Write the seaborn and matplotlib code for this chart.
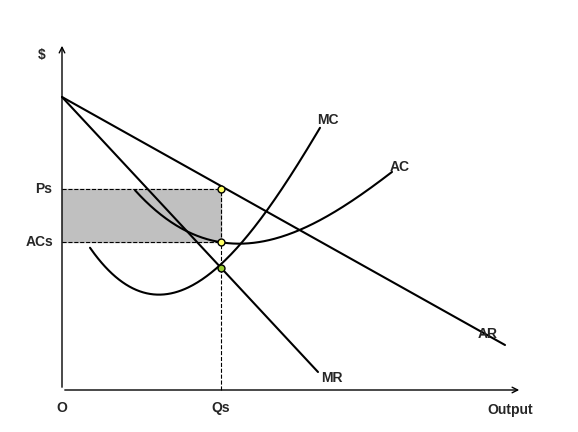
import numpy as np
import matplotlib
matplotlib.use("Agg")
import matplotlib.pyplot as plt
import seaborn as sns

# values (origin at O)
ar_x = [0, 443]
ar_y = [293, 45]
mr_x = [0, 256]
mr_y = [293, 18]
mc_x = [28, 48, 68, 93, 118, 138, 159, 183, 208, 233, 258]
mc_y = [142, 118, 103, 97, 100, 110, 122, 150, 185, 225, 260]
ac_x = [73, 93, 118, 138, 159, 183, 208, 238, 268, 298, 330]
ac_y = [200, 180, 162, 153, 148, 147, 150, 160, 175, 195, 218]
qs = 159
ps = 201
acs = 148
mc_at_qs = 122


# smooth a curve through the read points
def smooth(xs, ys, deg=3):
    coef = np.polyfit(xs, ys, deg)
    grid = np.linspace(xs[0], xs[-1], 200)
    return grid, np.polyval(coef, grid)


sns.set_style("white")
plt.rcParams['font.family'] = ['Liberation Sans', 'DejaVu Sans']

fig = plt.figure(figsize=(5.78, 4.32), dpi=100)
ax = fig.add_axes([0, 0, 1, 1])
ax.set_xlim(-62, 516)
ax.set_ylim(-42, 390)
ax.axis('off')

# axes with arrows
ax.annotate('', xy=(460, 0), xytext=(0, 0),
            arrowprops=dict(arrowstyle='->', lw=1, color='black'))
ax.annotate('', xy=(0, 347), xytext=(0, 0),
            arrowprops=dict(arrowstyle='->', lw=1, color='black'))

# profit box
ax.fill_between([0, qs], acs, ps, color='#c0c0c0', zorder=1)
ax.plot([0, qs], [ps, ps], ls='--', color='black', lw=0.8)
ax.plot([0, qs], [acs, acs], ls='--', color='black', lw=0.8)
ax.plot([qs, qs], [0, ps], ls='--', color='black', lw=0.8)

sns.lineplot(x=ar_x, y=ar_y, ax=ax, color='black', lw=1.5)
sns.lineplot(x=mr_x, y=mr_y, ax=ax, color='black', lw=1.5)
gx, gy = smooth(mc_x, mc_y)
ax.plot(gx, gy, color='black', lw=1.5)
gx, gy = smooth(ac_x, ac_y)
ax.plot(gx, gy, color='black', lw=1.5)

ax.scatter([qs, qs], [ps, acs], s=25, color='#ffff66', edgecolor='black', zorder=5)
ax.scatter([qs], [mc_at_qs], s=25, color='#99cc33', edgecolor='black', zorder=5)

kw = dict(fontsize=10, fontweight='bold', ha='center', va='center')
ax.text(266, 270, 'MC', **kw)
ax.text(338, 223, 'AC', **kw)
ax.text(426, 56, 'AR', **kw)
ax.text(270, 12, 'MR', **kw)
ax.text(-20, 335, '$', **kw)
ax.text(-18, ps, 'Ps', **kw)
ax.text(-22, acs, 'ACs', **kw)
ax.text(0, -18, 'O', **kw)
ax.text(qs, -18, 'Qs', **kw)
ax.text(448, -20, 'Output', **kw)

fig.savefig('out.png', dpi=100)
